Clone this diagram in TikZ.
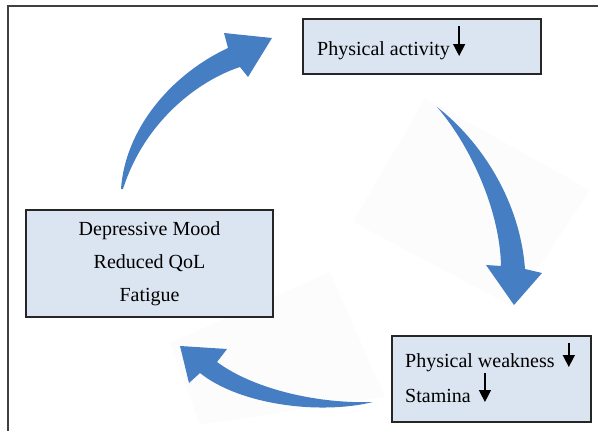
\documentclass[tikz,border=0pt]{standalone}
\usepackage{fontspec}
\setmainfont{Liberation Serif}
\usetikzlibrary{arrows.meta}
\definecolor{boxfill}{RGB}{219,229,241}
\definecolor{cycleblue}{RGB}{70,126,196}
\definecolor{framegray}{RGB}{64,64,64}
\definecolor{faintbg}{RGB}{252,252,253}
\tikzset{
  box/.style={draw=black!85, fill=boxfill, line width=1.1pt, inner sep=0pt},
  txt/.style={font=\fontsize{20}{24}\selectfont, inner sep=0pt},
  downarr/.style={-{Triangle[length=12pt,width=12pt]}, line width=1.5pt},
  bigarr/.style={fill=cycleblue, draw=none}
}
\begin{document}
\begin{tikzpicture}[x=1pt,y=-1pt]
  \useasboundingbox (0,0) rectangle (598,431);
  \draw[framegray, line width=1.6pt] (8,431) -- (8,6) -- (598,6);
  % faint backgrounds behind the lower arrows
  \fill[faintbg] (425,98) -- (590,190) -- (513,307) -- (353,222) -- cycle;
  \fill[faintbg] (170,343) -- (330,272) -- (385,397) -- (200,425) -- cycle;
  % boxes
  \node[box, minimum width=238pt, minimum height=55pt] (act) at (422,46.5) {};
  \node[box, txt, minimum width=247pt, minimum height=107pt, align=center,
    font=\fontsize{20}{33}\selectfont] (mood) at (149.5,263.5)
    {Depressive Mood\\Reduced QoL\\Fatigue};
  \node[box, minimum width=199pt, minimum height=86pt] (weak) at (491.5,379) {};
  \node[txt, anchor=base west] (acttxt) at (317,56) {Physical activity};
  \node[txt, anchor=base west] (weaktxt) at (405,367) {Physical weakness};
  \node[txt, anchor=base west] (stamtxt) at (405,402) {Stamina};
  \draw[downarr] ([xshift=9pt,yshift=30pt]acttxt.base east) -- ([xshift=9pt]acttxt.base east);
  \draw[downarr] ([xshift=14pt,yshift=24pt]weaktxt.base east) -- ([xshift=14pt]weaktxt.base east);
  \draw[downarr] ([xshift=14pt,yshift=29pt]stamtxt.base east) -- ([xshift=14pt]stamtxt.base east);
  % cycle arrows
  \fill[bigarr] (121,189) .. controls (125,130) and (170,75) .. (228,48)
    -- (224,33) -- (272,38) -- (248,77) -- (240,67)
    .. controls (200,80) and (145,120) .. (123,189) -- cycle;
  \fill[bigarr] (437,107) .. controls (480,140) and (520,200) .. (525,269)
    -- (542,273) -- (514,305) -- (486,265) -- (501,266)
    .. controls (500,210) and (470,145) .. (437,107) -- cycle;
  \fill[bigarr] (373,402) .. controls (320,404) and (255,390) .. (217,362)
    -- (227,349) -- (180,346) -- (189,383) -- (200,373)
    .. controls (240,405) and (320,415) .. (373,402) -- cycle;
\end{tikzpicture}
\end{document}
